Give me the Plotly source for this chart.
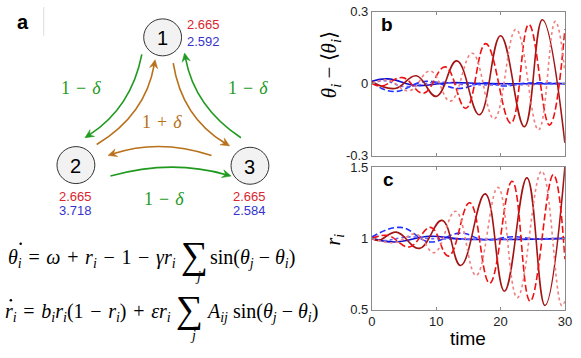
import numpy as np
import plotly.graph_objects as go

W, H = 581, 358

# panel b: theta_i - <theta_i> (extrema)
tb_dark = [0, 3.6, 6.9, 10.0, 13.2, 16.7, 20.0, 23.7, 26.5, 30]
b_dark = [0.008, -0.02, 0.033, -0.053, 0.095, -0.13, 0.2, -0.18, 0.267, -0.247]
tb_dash = [0, 1.5, 4.8, 8.0, 11.4, 14.6, 17.7, 21.6, 24.4, 27.6, 30]
b_dash = [0.0, -0.01, 0.025, -0.04, 0.07, -0.103, 0.167, -0.165, 0.247, -0.173, 0.227]
tb_dot = [0, 2.5, 5.8, 9.1, 12.2, 15.6, 19.0, 22.4, 25.9, 28.5, 30]
b_dot = [0.0, 0.015, -0.03, 0.053, -0.073, 0.127, -0.147, 0.227, -0.193, 0.26, 0.05]
tb_bsolid = [0, 2.5, 7, 12, 18, 30]
b_bsolid = [0.01, 0.02, -0.008, 0.004, 0.0, 0.0]
tb_bdash = [0, 3.3, 8.5, 13.5, 17.5, 20.5, 24, 30]
b_bdash = [0.005, -0.033, 0.01, -0.02, 0.004, -0.01, 0.002, 0.0]
tb_bdot = [0, 2, 5, 10, 15, 30]
b_bdot = [0.0, 0.012, -0.012, 0.006, -0.004, 0.0]

# panel c: r_i
tc_dark = [0, 1.0, 3.8, 7.4, 10.9, 13.8, 17.6, 20.6, 24.1, 26.9, 30]
c_dark = [1.0, 0.985, 1.044, 0.93, 1.126, 0.81, 1.312, 0.63, 1.424, 0.53, 1.5]
tc_dash = [0, 2.5, 5.8, 9.15, 11.9, 15.2, 18.3, 21.8, 24.6, 28.2, 30]
c_dash = [1.0, 1.02, 0.94, 1.077, 0.876, 1.25, 0.686, 1.40, 0.56, 1.446, 0.855]
tc_dot = [0, 3.5, 6.9, 9.7, 13.0, 16.2, 19.6, 22.6, 26.4, 29.5, 30]
c_dot = [1.0, 0.97, 1.03, 0.9, 1.19, 0.74, 1.357, 0.585, 1.47, 0.53, 0.56]
tc_bsolid = [0, 3.5, 9, 14, 30]
c_bsolid = [1.0, 0.975, 1.015, 0.995, 1.0]
tc_bdash = [0, 4.5, 9, 13.7, 17.5, 22, 25, 30]
c_bdash = [1.01, 1.077, 0.975, 1.037, 0.99, 1.012, 0.998, 1.0]
tc_bdot = [0, 2, 5.5, 10, 30]
c_bdot = [1.0, 0.985, 1.01, 0.997, 1.0]

# node values shown in the diagram
node_red = ["2.665", "2.665", "2.665"]
node_blue = ["2.592", "3.718", "2.584"]

DARK, RED, LIGHT = "#a31515", "#f01010", "#f08080"
BLUE1, BLUE2, BLUE3 = "#1010d0", "#2030ff", "#6060ff"
GREEN, BROWN = "#1f9a1f", "#b8701a"

fig = go.Figure()

def add(t, v, color, dash, xa, ya):
    fig.add_trace(go.Scatter(x=t, y=v, mode="lines", xaxis=xa, yaxis=ya,
                             line=dict(color=color, dash=dash, width=1.6,
                                       shape="spline", smoothing=1.2),
                             showlegend=False, hoverinfo="skip"))

for xa, ya, data in [
    ("x", "y", [(tb_bsolid, b_bsolid, BLUE1, "solid"), (tb_bdash, b_bdash, BLUE2, "6px,3px"),
                (tb_bdot, b_bdot, BLUE3, "dot"), (tb_dark, b_dark, DARK, "solid"),
                (tb_dash, b_dash, RED, "7px,3px"), (tb_dot, b_dot, LIGHT, "dot")]),
    ("x2", "y2", [(tc_bsolid, c_bsolid, BLUE1, "solid"), (tc_bdash, c_bdash, BLUE2, "6px,3px"),
                  (tc_bdot, c_bdot, BLUE3, "dot"), (tc_dark, c_dark, DARK, "solid"),
                  (tc_dash, c_dash, RED, "7px,3px"), (tc_dot, c_dot, LIGHT, "dot")]),
]:
    for t, v, col, d in data:
        add(t, v, col, d, xa, ya)

# invisible pixel-space overlay for the diagram
fig.add_trace(go.Scatter(x=[], y=[], xaxis="x3", yaxis="y3", showlegend=False))

def dx(p):
    return p / W

def dy(p):
    return 1 - p / H

ax_common = dict(showline=True, linecolor="#8a8a8a", linewidth=1, mirror="ticks",
                 ticks="inside", ticklen=3, tickcolor="#8a8a8a", showgrid=False,
                 zeroline=False, tickfont=dict(family="Liberation Sans", size=13, color="#222"))

fig.update_layout(
    width=W, height=H, margin=dict(l=0, r=0, t=0, b=0),
    paper_bgcolor="white", plot_bgcolor="rgba(0,0,0,0)",
    xaxis=dict(domain=[dx(375), dx(571.7)], range=[0, 30], tickvals=[0, 10, 20, 30],
               showticklabels=False, anchor="y", **ax_common),
    yaxis=dict(domain=[dy(155), dy(5)], range=[-0.3, 0.3], tickvals=[-0.3, 0, 0.3],
               ticktext=["-0.3", "0", "0.3"], anchor="x", **ax_common),
    xaxis2=dict(domain=[dx(375), dx(571.7)], range=[0, 30], tickvals=[0, 10, 20, 30],
                anchor="y2", **ax_common),
    yaxis2=dict(domain=[dy(316), dy(167)], range=[0.5, 1.5], tickvals=[0.5, 1, 1.5],
                anchor="x2", **ax_common),
    xaxis3=dict(domain=[0, 1], range=[0, W], visible=False, anchor="y3", fixedrange=True),
    yaxis3=dict(domain=[0, 1], range=[H, 0], visible=False, anchor="x3", fixedrange=True),
)

shapes = []
anns = []

def txt(x, y, s, size=12, color="black", family="Liberation Sans", xanchor="center",
        angle=0):
    anns.append(dict(x=x, y=y, xref="x3", yref="y3", text=s, showarrow=False,
                     xanchor=xanchor, yanchor="middle", textangle=angle,
                     font=dict(family=family, size=size, color=color)))

def dot(x, y, r=1.3):
    shapes.append(dict(type="circle", xref="x3", yref="y3", x0=x - r, x1=x + r,
                       y0=y - r, y1=y + r, fillcolor="black", line=dict(width=0)))

# nodes
nodes = [(161.7, 31.7), (73.3, 165.0), (250.7, 165.7)]
R = 19.3
for i, (cx, cy) in enumerate(nodes):
    shapes.append(dict(type="circle", xref="x3", yref="y3", x0=cx - R, x1=cx + R,
                       y0=cy - R, y1=cy + R, fillcolor="#f2f2f2",
                       line=dict(color="#333", width=1)))
    txt(cx, cy + 1, str(i + 1), size=20)

NRED, NBLUE = "#d9262e", "#3434cc"
NS = 13
txt(203, 18.3, node_red[0], NS, NRED)
txt(203, 35.7, node_blue[0], NS, NBLUE)
txt(73.3, 198.0, node_red[1], NS, NRED)
txt(73.3, 212.5, node_blue[1], NS, NBLUE)
txt(250.5, 198.0, node_red[2], NS, NRED)
txt(250.5, 212.5, node_blue[2], NS, NBLUE)


def arrow(p0, p2, bulge, color):
    p0 = np.array(p0, float)
    p2 = np.array(p2, float)
    d = p2 - p0
    n = np.array([d[1], -d[0]]) / np.linalg.norm(d)
    c = (p0 + p2) / 2 + n * bulge * 2
    tan = p2 - c
    tan /= np.linalg.norm(tan)
    L, Wd = 9.0, 4.2
    end = p2 - tan * L * 0.6
    shapes.append(dict(type="path", xref="x3", yref="y3",
                       path=f"M {p0[0]:.2f} {p0[1]:.2f} Q {c[0]:.2f} {c[1]:.2f} {end[0]:.2f} {end[1]:.2f}",
                       line=dict(color=color, width=1.6)))
    perp = np.array([-tan[1], tan[0]])
    b1 = p2 - tan * L + perp * Wd
    b2 = p2 - tan * L - perp * Wd
    nt = p2 - tan * L * 0.65
    shapes.append(dict(type="path", xref="x3", yref="y3",
                       path=f"M {p2[0]:.2f} {p2[1]:.2f} L {b1[0]:.2f} {b1[1]:.2f} L {nt[0]:.2f} {nt[1]:.2f} L {b2[0]:.2f} {b2[1]:.2f} Z",
                       fillcolor=color, line=dict(color=color, width=0.5)))

# green (1 - delta)
arrow((140.5, 49.5), (82.5, 136.5), 11, GREEN)
arrow((241.5, 136.5), (184.0, 48.0), 11, GREEN)
arrow((108.5, 176.5), (231.5, 176.5), 9, GREEN)
# brown (1 + delta)
arrow((94.5, 143.5), (154.0, 55.0), -12, BROWN)
arrow((172.5, 58.5), (230.0, 145.0), -12, BROWN)
arrow((211.5, 155.0), (106.0, 155.0), -9, BROWN)

SERIF = "Liberation Serif"
sp = "\u200a"
lab_m = f"1 {sp}−{sp} <i>δ</i>"
lab_p = f"1 {sp}+{sp} <i>δ</i>"
txt(78, 85, lab_m, 18, GREEN, SERIF)
txt(249, 85, lab_m, 18, GREEN, SERIF)
txt(163, 200, lab_m, 18, GREEN, SERIF)
txt(161, 120, lab_p, 18, BROWN, SERIF)

txt(19, 16, "<b>a</b>", 20)
shapes.append(dict(type="line", xref="x3", yref="y3", x0=40.5, x1=40.5, y0=0, y1=30,
                   line=dict(color="#dddddd", width=1)))

# equations
EQ = 20
txt(177, 262, f"<i>θ</i><sub><i>i</i></sub> {sp}={sp} <i>ω</i> {sp}+{sp} <i>r</i><sub><i>i</i></sub> {sp}−{sp} 1 {sp}−{sp} <i>γr</i><sub><i>i</i></sub>",
    EQ, "black", SERIF, "right")
txt(194, 259, "∑", 38, "black", SERIF)
txt(198, 281, "<i>j</i>", 14, "black", SERIF)
txt(208, 262, "sin(<i>θ</i><sub><i>j</i></sub> − <i>θ</i><sub><i>i</i></sub>)", EQ, "black", SERIF, "left")

txt(172, 319, f"<i>r</i><sub><i>i</i></sub> {sp}={sp} <i>b</i><sub><i>i</i></sub><i>r</i><sub><i>i</i></sub>(1 {sp}−{sp} <i>r</i><sub><i>i</i></sub>) {sp}+{sp} <i>εr</i><sub><i>i</i></sub>",
    EQ, "black", SERIF, "right")
txt(189, 316, "∑", 38, "black", SERIF)
txt(193, 343, "<i>j</i>", 14, "black", SERIF)
txt(204, 319, "<i>A</i><sub><i>ij</i></sub> sin(<i>θ</i><sub><i>j</i></sub> − <i>θ</i><sub><i>i</i></sub>)", EQ, "black", SERIF, "left")
dot(17, 247)
dot(7, 306)

# right panels labels
txt(390, 18, "<b>b</b>", 19)
txt(392, 180, "<b>c</b>", 19)
txt(333, 60, "<i>θ</i><sub><i>i</i></sub> − ⟨<i>θ</i><sub><i>i</i></sub>⟩", 21, "black", SERIF, angle=-90)
txt(337, 243, "<i>r</i><sub><i>i</i></sub>", 20, "black", SERIF, angle=-90)
txt(473, 346, "time", 19, "black")

fig.update_layout(shapes=shapes, annotations=anns)
fig.write_html("out.html", config={"displayModeBar": False},
               post_script="document.body.style.margin='0';")
